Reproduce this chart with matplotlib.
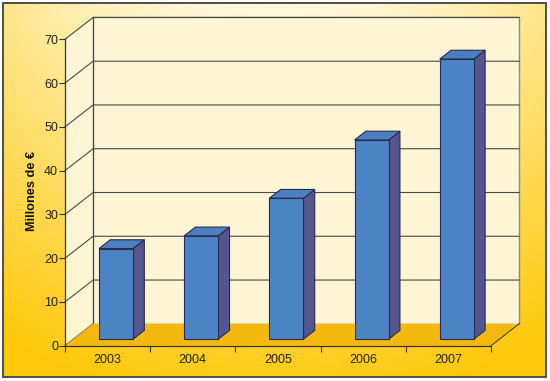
import numpy as np
import matplotlib as mpl
import matplotlib.pyplot as plt
from matplotlib.patches import Polygon, Rectangle

mpl.rcParams.update({
    "font.family": ["Liberation Sans", "DejaVu Sans"],
    "font.size": 9,
})

# data
years = ["2003", "2004", "2005", "2006", "2007"]
values = [20.7, 23.6, 32.2, 45.5, 64.0]
y_ticks = [0, 10, 20, 30, 40, 50, 60, 70]
y_label = "Millones de €"

# pseudo-3d look
DX, DY = 0.33, 5.0          # wall depth in data units
BAR_W = 0.40
D0, D1 = 0.30, 0.70         # bar depth span (fraction)

C_WALL = "#FDF5D3"
C_FLOOR = "#F5B80C"
C_GRID = "#4a4a44"
C_FRONT = "#4A84C4"
C_SIDE = "#55558F"
C_TOP = "#4B7FC0"
C_EDGE = "#2A2A50"


def proj(x, y, d):
    return (x + d * DX, y + d * DY)


def main():
    W, H = 550, 381
    fig = plt.figure(figsize=(W / 100, H / 100), dpi=100)
    fig.patch.set_facecolor("white")

    # background gradient inside the frame
    bg = fig.add_axes([0, 0, 1, 1])
    bg.set_xlim(0, 1)
    bg.set_ylim(0, 1)
    bg.set_axis_off()
    ny, nx = 200, 300
    yy, xx = np.mgrid[0:1:ny * 1j, 0:1:nx * 1j]
    t = np.clip(0.92 * yy ** 1.1 + 0.7 * np.abs(xx - 0.5) ** 2.0 * (1 - 0.6 * yy) * 2.2, 0, 1)
    top = np.array([254, 248, 222]) / 255
    bot = np.array([255, 200, 8]) / 255
    img = top[None, None, :] * (1 - t[..., None]) + bot[None, None, :] * t[..., None]
    x0, x1 = 3 / W, 546 / W
    y0, y1 = 1 - 377 / H, 1 - 3 / H
    bg.imshow(img, extent=[x0, x1, y0, y1], origin="upper", aspect="auto", zorder=0)
    bg.add_patch(Rectangle((x0, y0), x1 - x0, y1 - y0, fill=False,
                           edgecolor="#4d4d4d", lw=1.4, zorder=2))

    ax = fig.add_axes([65 / W, 1 - 345.7 / H, 426 / W, 306.4 / H])
    ax.patch.set_visible(False)
    n = len(years)
    ymax = y_ticks[-1]
    ax.set_xlim(0, n)
    ax.set_ylim(0, ymax)

    # side wall, back wall, floor
    ax.add_patch(Polygon([(0, 0), proj(0, 0, 1), proj(0, ymax, 1), (0, ymax)],
                         closed=True, facecolor=C_WALL, edgecolor="none", zorder=1, clip_on=False))
    ax.add_patch(Polygon([proj(0, 0, 1), proj(n, 0, 1), proj(n, ymax, 1), proj(0, ymax, 1)],
                         closed=True, facecolor=C_WALL, edgecolor="#8e8c7c", lw=1.0, zorder=1, clip_on=False))
    ax.add_patch(Polygon([(0, 0), (n, 0), proj(n, 0, 1), proj(0, 0, 1)],
                         closed=True, facecolor=C_FLOOR, edgecolor="none", zorder=2, clip_on=False))
    ax.plot([n, n + DX], [0, DY], color=C_GRID, lw=0.8, zorder=3, clip_on=False)

    # gridlines on side + back wall
    for v in y_ticks:
        xs = [0, DX, n + DX] if v > 0 else [0, DX]
        ys = [v, v + DY, v + DY] if v > 0 else [0, DY]
        ax.plot(xs, ys, color=C_GRID, lw=0.8, zorder=1.5, clip_on=False)
    ax.plot([DX, DX], [DY, ymax + DY], color=C_GRID, lw=0.8, zorder=1.5, clip_on=False)

    # bars
    for i, v in enumerate(values):
        xl = i + 0.5 - BAR_W / 2
        xr = i + 0.5 + BAR_W / 2
        front = [proj(xl, 0, D0), proj(xr, 0, D0), proj(xr, v, D0), proj(xl, v, D0)]
        side = [proj(xr, 0, D0), proj(xr, 0, D1), proj(xr, v, D1), proj(xr, v, D0)]
        topf = [proj(xl, v, D0), proj(xr, v, D0), proj(xr, v, D1), proj(xl, v, D1)]
        for pts, c in ((side, C_SIDE), (topf, C_TOP), (front, C_FRONT)):
            ax.add_patch(Polygon(pts, closed=True, facecolor=c, edgecolor=C_EDGE,
                                 lw=0.8, zorder=4, clip_on=False))

    # axes
    for s in ("top", "right"):
        ax.spines[s].set_visible(False)
    for s in ("left", "bottom"):
        ax.spines[s].set_color("#333333")
        ax.spines[s].set_linewidth(0.9)
        ax.spines[s].set_zorder(5)
    ax.set_yticks(y_ticks)
    ax.set_xticks(np.arange(n + 1))
    ax.set_xticklabels([])
    ax.set_xticks(np.arange(n) + 0.5, minor=True)
    ax.set_xticklabels(years, minor=True)
    ax.tick_params(axis="y", direction="out", length=4, width=0.8, color="#333333",
                   labelsize=9, labelcolor="#222222", pad=1)
    ax.tick_params(axis="x", which="major", direction="out", length=4, width=0.8, color="#333333")
    ax.tick_params(axis="x", which="minor", length=0, labelsize=9, labelcolor="#222222", pad=6)

    ax.text(-0.077, 0.505, y_label, transform=ax.transAxes, rotation=90,
            ha="center", va="center", fontsize=9.2, fontweight="bold", color="#111111")

    fig.savefig("out.png", dpi=100)


if __name__ == "__main__":
    main()
